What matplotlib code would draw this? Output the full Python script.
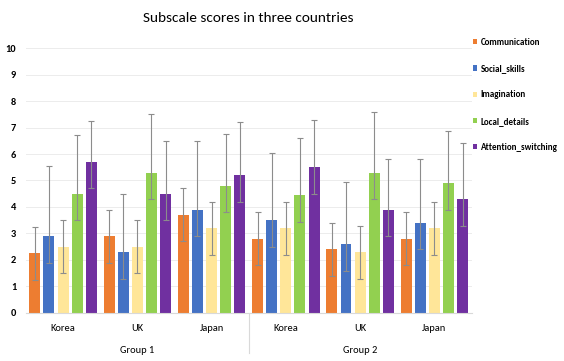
import numpy as np
import matplotlib
matplotlib.use("Agg")
import matplotlib.pyplot as plt
from matplotlib.lines import Line2D

plt.rcParams['font.family'] = ['Carlito', 'DejaVu Sans']

countries = ["Korea", "UK", "Japan", "Korea", "UK", "Japan"]
groups = ["Group 1", "Group 2"]
series = ["Communication", "Social_skills", "Imagination", "Local_details", "Attention_switching"]
colors = ["#ED7D31", "#4472C4", "#FFE699", "#92D050", "#7030A0"]

communication = [2.25, 2.9, 3.7, 2.8, 2.4, 2.8]
social_skills = [2.9, 2.3, 3.9, 3.5, 2.6, 3.4]
imagination = [2.5, 2.5, 3.2, 3.2, 2.3, 3.2]
local_details = [4.5, 5.3, 4.8, 4.45, 5.3, 4.9]
attention_switching = [5.7, 4.5, 5.2, 5.5, 3.9, 4.3]

comm_top = [3.25, 3.9, 4.7, 3.8, 3.4, 3.8]
social_top = [5.55, 4.5, 6.5, 6.05, 4.95, 5.8]
imag_top = [3.5, 3.5, 4.2, 4.2, 3.3, 4.2]
local_top = [6.7, 7.5, 6.75, 6.6, 7.6, 6.85]
attention_top = [7.25, 6.5, 7.2, 7.3, 5.8, 6.4]

lower_err = [1, 1, 1, 1, 1, 1]

values = [communication, social_skills, imagination, local_details, attention_switching]
tops = [comm_top, social_top, imag_top, local_top, attention_top]

fig = plt.figure(figsize=(5.64, 3.61), dpi=100)
ax = fig.add_axes([0.046, 0.133, 0.79, 0.734])

x = np.arange(len(countries))
step = 0.19
width = 0.148
for i, (name, vals, top, c) in enumerate(zip(series, values, tops, colors)):
    pos = x + (i - 2) * step
    vals = np.array(vals)
    up = np.array(top) - vals
    lo = np.array(lower_err)
    ax.bar(pos, vals, width, color=c, label=name, zorder=2)
    ax.errorbar(pos, vals, yerr=[lo, up], fmt='none', ecolor='#8c8c8c',
                elinewidth=0.8, capsize=2, capthick=0.8, zorder=3)

ax.set_ylim(0, 10)
ax.set_xlim(-0.5, len(countries) - 0.5)
ax.set_yticks(range(0, 11))
ax.set_yticklabels([str(v) for v in range(0, 11)], fontsize=7.5, fontweight='bold')
ax.yaxis.grid(True, color='#ececec', linewidth=0.7, zorder=0)
ax.set_axisbelow(True)
ax.set_xticks(x)
ax.set_xticklabels(countries, fontsize=7.5)
ax.tick_params(axis='both', length=0, pad=8)
ax.tick_params(axis='y', pad=7)
for s in ['top', 'right', 'left']:
    ax.spines[s].set_visible(False)
ax.spines['bottom'].set_color('#d9d9d9')

for g, name in enumerate(groups):
    ax.text(g * 3 + 1, -0.14, name, transform=ax.get_xaxis_transform(),
            ha='center', va='center', fontsize=7.5)
sep = Line2D([2.5, 2.5], [0, -0.15], transform=ax.get_xaxis_transform(),
             color='#d9d9d9', linewidth=0.8, clip_on=False)
ax.add_line(sep)

ax.set_title("Subscale scores in three countries", fontsize=11, pad=19)

ax.legend(loc='upper left', bbox_to_anchor=(0.985, 1.068), frameon=False,
          prop={'size': 6.5, 'weight': 'bold'}, handlelength=0.5, handleheight=0.5,
          handletextpad=0.35, labelspacing=1.9)

fig.savefig("out.png", dpi=100)
